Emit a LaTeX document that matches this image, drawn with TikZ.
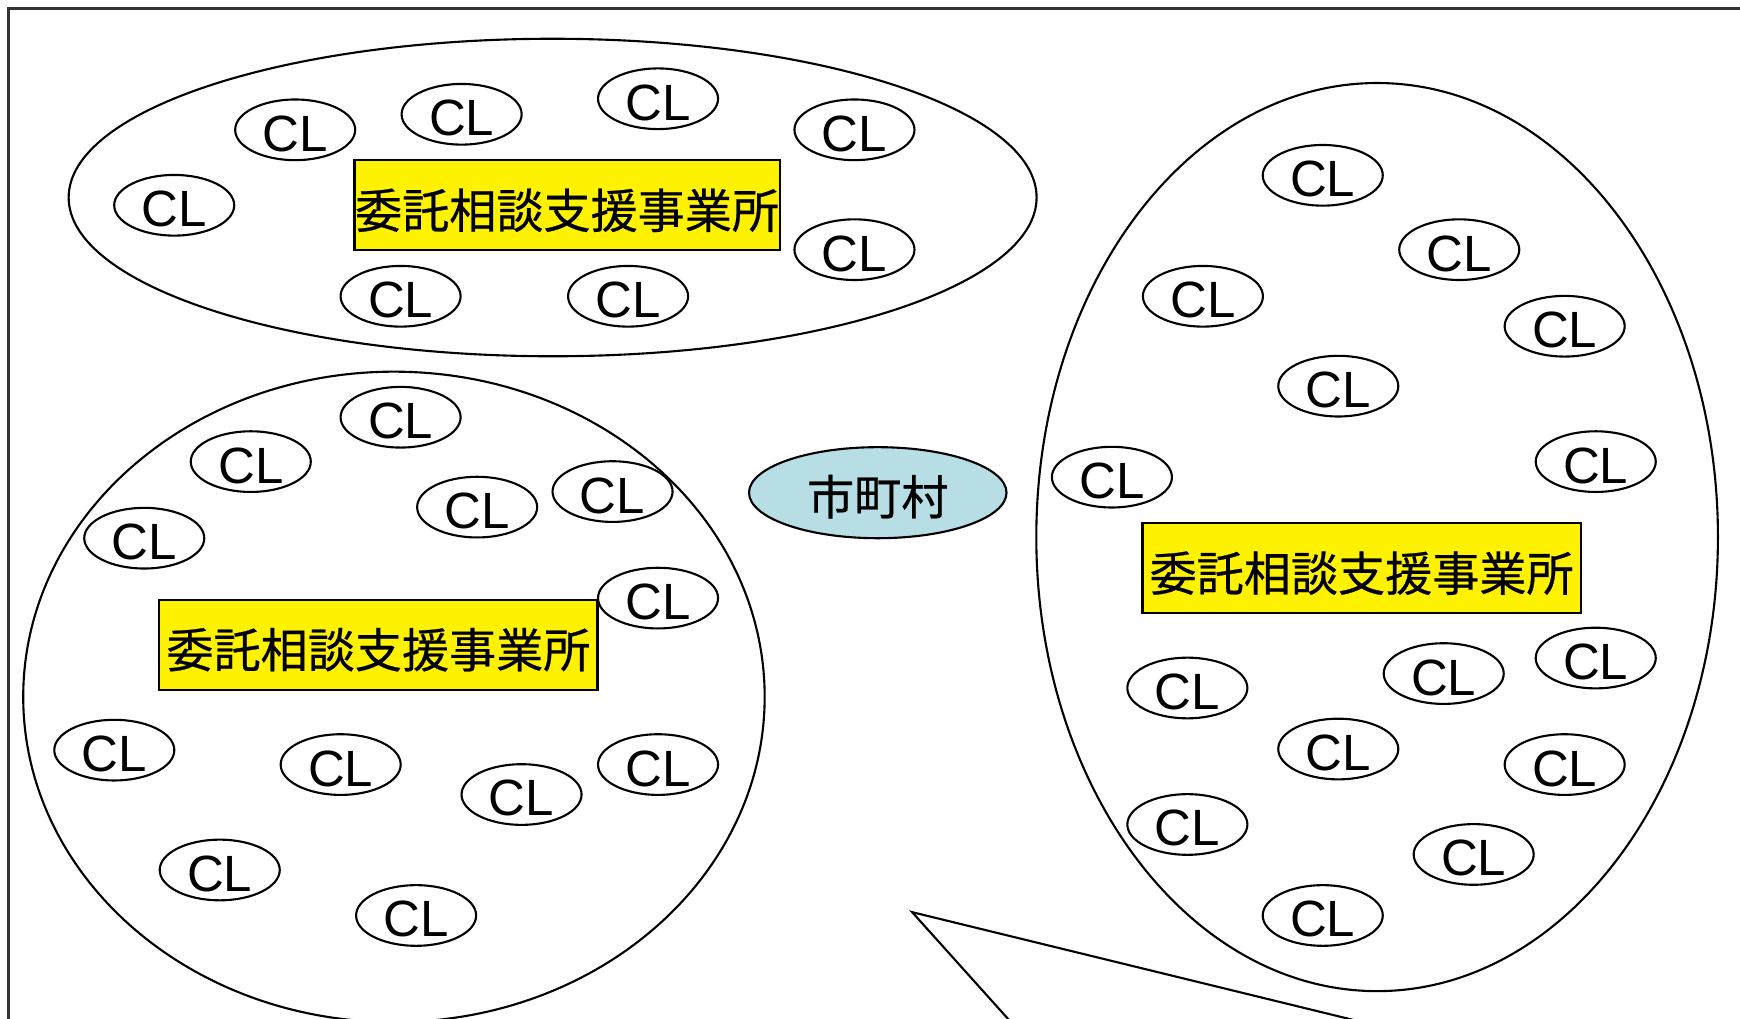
\documentclass[tikz,border=0pt]{standalone}
\usepackage{fontspec}
\usepackage{tikz}
\usetikzlibrary{shapes.geometric}
\setmainfont{Liberation Sans}
\newfontfamily\jpfont[FakeBold=0.5]{Noto Sans CJK JP}
\definecolor{cityblue}{RGB}{183,222,228}

\tikzset{
  cl/.style={draw, ellipse, fill=white, line width=0.6pt, inner sep=0pt,
    minimum width=1.2cm, minimum height=0.6cm, text height=12.2pt, text depth=0pt,
    font=\fontsize{14.5}{17}\selectfont},
  office/.style={draw, fill=yellow, line width=0.6pt, inner sep=0pt,
    minimum width=4.38cm, minimum height=0.9cm, text height=13pt, text depth=0pt,
    font=\jpfont\fontsize{13.4}{16}\selectfont},
  area/.style={line width=0.6pt}
}

\begin{document}
\begin{tikzpicture}[x=0.011097cm, y=-0.011097cm]

\clip (0,0) rectangle (1568,918);

 % frame
\draw [line width=0.8pt, black!80] (8,940) -- (8,8) -- (1590,8);

 % areas
\draw [area] (498,178) ellipse [x radius=4.838cm, y radius=1.587cm];
\draw [area] (355,628) ellipse [x radius=3.706cm, y radius=3.251cm];
\draw [area] (1241,484) ellipse [x radius=3.407cm, y radius=4.539cm];

 % callout
\draw [area] (1305,940) -- (822,822) -- (928,940);

 % city
\node [draw, ellipse, fill=cityblue, line width=0.6pt, inner sep=0pt,
  minimum width=2.574cm, minimum height=0.91cm, text height=12.5pt, text depth=0pt,
  font=\jpfont\fontsize{13.4}{16}\selectfont] (city) at (791,444) {市町村};

 % offices
\node [office, minimum width=4.25cm] (officeA) at (511,185) {委託相談支援事業所};
\node [office] (officeB) at (341,581) {委託相談支援事業所};
\node [office] (officeC) at (1227,512) {委託相談支援事業所};

 % clients, top area
\node [cl] (a1) at (266,117) {CL};
\node [cl] (a2) at (416,103) {CL};
\node [cl] (a3) at (593,89) {CL};
\node [cl] (a4) at (770,117) {CL};
\node [cl] (a5) at (157,185) {CL};
\node [cl] (a6) at (770,225) {CL};
\node [cl] (a7) at (361,267) {CL};
\node [cl] (a8) at (566,267) {CL};

 % clients, left area
\node [cl] (b1) at (361,376) {CL};
\node [cl] (b2) at (226,416) {CL};
\node [cl] (b3) at (430,457) {CL};
\node [cl] (b4) at (552,443) {CL};
\node [cl] (b5) at (130,485) {CL};
\node [cl] (b6) at (593,539) {CL};
\node [cl] (b7) at (103,676) {CL};
\node [cl] (b8) at (307,689) {CL};
\node [cl] (b9) at (470,716) {CL};
\node [cl] (b10) at (593,689) {CL};
\node [cl] (b11) at (198,784) {CL};
\node [cl] (b12) at (375,825) {CL};

 % clients, right area
\node [cl] (c1) at (1192,158) {CL};
\node [cl] (c2) at (1315,225) {CL};
\node [cl] (c3) at (1084,267) {CL};
\node [cl] (c4) at (1410,294) {CL};
\node [cl] (c5) at (1206,348) {CL};
\node [cl] (c6) at (1002,430) {CL};
\node [cl] (c7) at (1438,416) {CL};
\node [cl] (c8) at (1070,620) {CL};
\node [cl] (c9) at (1301,607) {CL};
\node [cl] (c10) at (1438,593) {CL};
\node [cl] (c11) at (1206,675) {CL};
\node [cl] (c12) at (1410,689) {CL};
\node [cl] (c13) at (1070,743) {CL};
\node [cl] (c14) at (1328,770) {CL};
\node [cl] (c15) at (1192,825) {CL};

\end{tikzpicture}
\end{document}
